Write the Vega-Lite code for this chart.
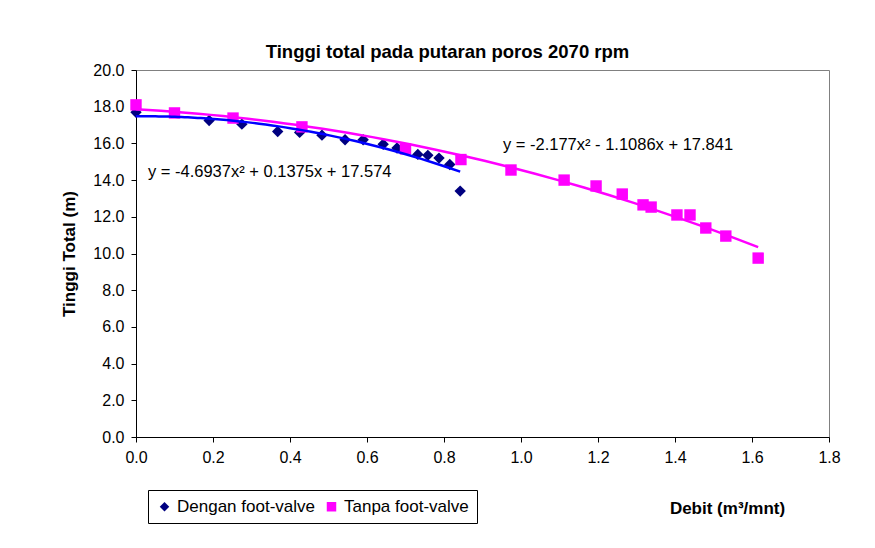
{
  "$schema": "https://vega.github.io/schema/vega-lite/v6.json",
  "autosize": {"type": "none"},
  "width": 693,
  "height": 367,
  "padding": {"left": 136, "top": 70, "right": 46, "bottom": 111},
  "background": "white",
  "config": {
    "font": "Liberation Sans",
    "view": {"stroke": "#808080", "strokeWidth": 1},
    "axis": {"grid": false, "domainColor": "black", "tickColor": "black", "labelColor": "black", "titleColor": "black", "labelFont": "Liberation Sans", "titleFont": "Liberation Sans", "labelFontSize": 16, "titleFontSize": 17, "titleFontWeight": "bold", "tickSize": 5, "labelPadding": 7, "labelFlush": false, "labelOverlap": false}
  },
  "title": {"text": "Tinggi total pada putaran poros 2070 rpm", "font": "Liberation Sans", "fontSize": 18.5, "fontWeight": "bold", "color": "black", "anchor": "middle", "dx": -35, "offset": 1},
  "data": {"values": [
    {"series": "Dengan foot-valve", "q": 0.0, "h": 17.7},
    {"series": "Dengan foot-valve", "q": 0.19, "h": 17.25},
    {"series": "Dengan foot-valve", "q": 0.275, "h": 17.05},
    {"series": "Dengan foot-valve", "q": 0.368, "h": 16.65},
    {"series": "Dengan foot-valve", "q": 0.425, "h": 16.6},
    {"series": "Dengan foot-valve", "q": 0.483, "h": 16.45},
    {"series": "Dengan foot-valve", "q": 0.543, "h": 16.2},
    {"series": "Dengan foot-valve", "q": 0.59, "h": 16.2},
    {"series": "Dengan foot-valve", "q": 0.642, "h": 15.95},
    {"series": "Dengan foot-valve", "q": 0.678, "h": 15.75},
    {"series": "Dengan foot-valve", "q": 0.732, "h": 15.4},
    {"series": "Dengan foot-valve", "q": 0.758, "h": 15.35},
    {"series": "Dengan foot-valve", "q": 0.787, "h": 15.2},
    {"series": "Dengan foot-valve", "q": 0.815, "h": 14.85},
    {"series": "Dengan foot-valve", "q": 0.842, "h": 13.4},
    {"series": "Tanpa foot-valve", "q": 0.0, "h": 18.1},
    {"series": "Tanpa foot-valve", "q": 0.1, "h": 17.66},
    {"series": "Tanpa foot-valve", "q": 0.252, "h": 17.38},
    {"series": "Tanpa foot-valve", "q": 0.431, "h": 16.9},
    {"series": "Tanpa foot-valve", "q": 0.7, "h": 15.7},
    {"series": "Tanpa foot-valve", "q": 0.844, "h": 15.12},
    {"series": "Tanpa foot-valve", "q": 0.974, "h": 14.55},
    {"series": "Tanpa foot-valve", "q": 1.112, "h": 14.0},
    {"series": "Tanpa foot-valve", "q": 1.195, "h": 13.68},
    {"series": "Tanpa foot-valve", "q": 1.263, "h": 13.24},
    {"series": "Tanpa foot-valve", "q": 1.317, "h": 12.65},
    {"series": "Tanpa foot-valve", "q": 1.338, "h": 12.53},
    {"series": "Tanpa foot-valve", "q": 1.405, "h": 12.1},
    {"series": "Tanpa foot-valve", "q": 1.439, "h": 12.1},
    {"series": "Tanpa foot-valve", "q": 1.48, "h": 11.39},
    {"series": "Tanpa foot-valve", "q": 1.532, "h": 10.95},
    {"series": "Tanpa foot-valve", "q": 1.616, "h": 9.75}
  ]},
  "layer": [
    {
      "mark": {"type": "point", "filled": true, "opacity": 1},
      "encoding": {
        "x": {"field": "q", "type": "quantitative", "scale": {"domain": [0, 1.8], "nice": false, "zero": false},
          "axis": {"values": [0, 0.2, 0.4, 0.6, 0.8, 1.0, 1.2, 1.4, 1.6, 1.8], "tickCount": 20, "format": ".1f", "labelOverlap": false, "title": "Debit (m³/mnt)", "titleX": 591, "titleY": 71, "titleBaseline": "middle", "titleAlign": "center"}},
        "y": {"field": "h", "type": "quantitative", "scale": {"domain": [0, 20], "nice": false},
          "axis": {"values": [0, 2, 4, 6, 8, 10, 12, 14, 16, 18, 20], "tickCount": 20, "format": ".1f", "labelOverlap": false, "title": "Tinggi Total (m)", "titlePadding": 14}},
        "color": {"field": "series", "type": "nominal", "scale": {"domain": ["Dengan foot-valve", "Tanpa foot-valve"], "range": ["#000080", "#FF00FF"]},
          "legend": {"title": null, "orient": "none", "legendX": 12, "legendY": 420, "direction": "horizontal", "strokeColor": "black", "padding": 8, "labelFontSize": 17, "labelFont": "Liberation Sans", "labelColor": "black", "symbolSize": 90, "columnPadding": 8, "symbolOpacity": 1, "labelLimit": 300}},
        "shape": {"field": "series", "type": "nominal", "scale": {"domain": ["Dengan foot-valve", "Tanpa foot-valve"], "range": ["diamond", "square"]}, "legend": {"title": null}},
        "size": {"value": 130}
      }
    },
    {
      "transform": [{"filter": "datum.series === 'Tanpa foot-valve'"}, {"regression": "h", "on": "q", "method": "poly", "order": 2}],
      "mark": {"type": "line", "color": "#FF00FF", "strokeWidth": 2.5},
      "encoding": {"x": {"field": "q", "type": "quantitative"}, "y": {"field": "h", "type": "quantitative"}}
    },
    {
      "transform": [{"filter": "datum.series === 'Dengan foot-valve'"}, {"regression": "h", "on": "q", "method": "poly", "order": 2}],
      "mark": {"type": "line", "color": "#0000FF", "strokeWidth": 2.5},
      "encoding": {"x": {"field": "q", "type": "quantitative"}, "y": {"field": "h", "type": "quantitative"}}
    },
    {
      "data": {"values": [{"label": "y = -4.6937x² + 0.1375x + 17.574", "lx": 0.031, "ly": 14.44}, {"label": "y = -2.177x² - 1.1086x + 17.841", "lx": 0.953, "ly": 15.91}]},
      "mark": {"type": "text", "align": "left", "baseline": "middle", "fontSize": 16.5, "font": "Liberation Sans", "color": "black"},
      "encoding": {"x": {"field": "lx", "type": "quantitative"}, "y": {"field": "ly", "type": "quantitative"}, "text": {"field": "label"}}
    }
  ]
}
